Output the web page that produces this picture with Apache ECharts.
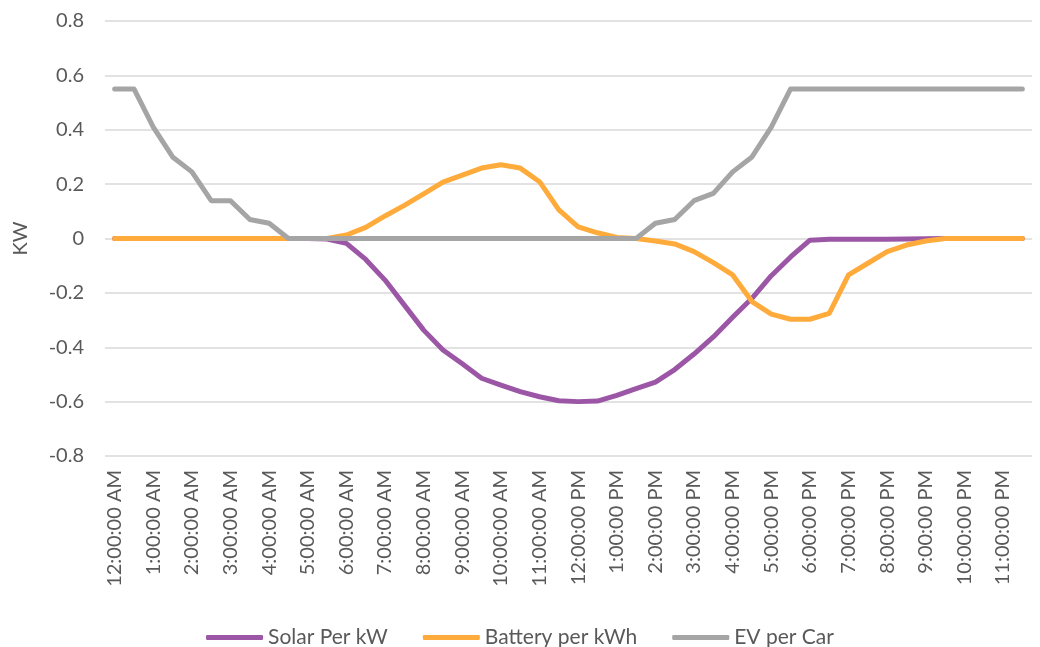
<!DOCTYPE html>
<html>
<head>
    <meta charset="utf-8">
    <title>Solar / Battery / EV</title>
    <script src="https://cdn.jsdelivr.net/npm/echarts@6/dist/echarts.min.js"></script>
</head>
<body style="margin:0px;background-color:#ffffff;">
    <div id="main" style="width:1040px;height:647px;"></div>
    <script type="text/javascript">
        // half-hourly categories
        var times = [
            '12:00:00 AM', '12:30:00 AM', '1:00:00 AM', '1:30:00 AM', '2:00:00 AM', '2:30:00 AM',
            '3:00:00 AM', '3:30:00 AM', '4:00:00 AM', '4:30:00 AM', '5:00:00 AM', '5:30:00 AM',
            '6:00:00 AM', '6:30:00 AM', '7:00:00 AM', '7:30:00 AM', '8:00:00 AM', '8:30:00 AM',
            '9:00:00 AM', '9:30:00 AM', '10:00:00 AM', '10:30:00 AM', '11:00:00 AM', '11:30:00 AM',
            '12:00:00 PM', '12:30:00 PM', '1:00:00 PM', '1:30:00 PM', '2:00:00 PM', '2:30:00 PM',
            '3:00:00 PM', '3:30:00 PM', '4:00:00 PM', '4:30:00 PM', '5:00:00 PM', '5:30:00 PM',
            '6:00:00 PM', '6:30:00 PM', '7:00:00 PM', '7:30:00 PM', '8:00:00 PM', '8:30:00 PM',
            '9:00:00 PM', '9:30:00 PM', '10:00:00 PM', '10:30:00 PM', '11:00:00 PM', '11:30:00 PM'
        ];

        var solar = [
            0, 0, 0, 0, 0, 0, 0, 0, 0, 0, 0, -0.002,
            -0.018, -0.077, -0.153, -0.245, -0.337, -0.41, -0.461, -0.514, -0.539, -0.563, -0.582, -0.597,
            -0.6, -0.598, -0.577, -0.552, -0.528, -0.482, -0.425, -0.362, -0.29, -0.22, -0.137, -0.068,
            -0.006, -0.003, -0.003, -0.003, -0.003, -0.002, -0.001, 0, 0, 0, 0, 0
        ];

        var battery = [
            0, 0, 0, 0, 0, 0, 0, 0, 0, 0, 0, 0,
            0.013, 0.041, 0.083, 0.122, 0.164, 0.207, 0.233, 0.259, 0.271, 0.259, 0.209, 0.105,
            0.043, 0.021, 0.004, 0, -0.009, -0.02, -0.048, -0.089, -0.134, -0.232, -0.278, -0.297,
            -0.297, -0.275, -0.134, -0.091, -0.048, -0.024, -0.009, 0, 0, 0, 0, 0
        ];

        var ev = [
            0.55, 0.55, 0.41, 0.30, 0.245, 0.139, 0.139, 0.07, 0.056, 0, 0, 0,
            0, 0, 0, 0, 0, 0, 0, 0, 0, 0, 0, 0,
            0, 0, 0, 0, 0.056, 0.07, 0.139, 0.166, 0.245, 0.30, 0.41, 0.55,
            0.55, 0.55, 0.55, 0.55, 0.55, 0.55, 0.55, 0.55, 0.55, 0.55, 0.55, 0.55
        ];

        var font = 'Lato';
        var textColor = '#595959';

        function lineSeries(name, data, color) {
            return {
                name: name,
                type: 'line',
                data: data,
                symbol: 'none',
                lineStyle: { width: 5, color: color, cap: 'round', join: 'round' },
                itemStyle: { color: color }
            };
        }

        var myChart = echarts.init(document.getElementById('main'));
        var option = {
            animation: false,
            grid: { left: 105, right: 8, top: 21, bottom: 191 },
            legend: {
                top: 622,
                left: 'center',
                itemWidth: 57,
                itemHeight: 5,
                itemGap: 35,
                icon: 'roundRect',
                textStyle: { fontFamily: font, fontSize: 21, color: textColor },
                data: ['Solar Per kW', 'Battery per kWh', 'EV per Car']
            },
            xAxis: {
                type: 'category',
                data: times,
                boundaryGap: true,
                axisLine: { show: false },
                axisTick: { show: false },
                axisLabel: {
                    interval: 1,
                    rotate: 90,
                    margin: 14,
                    fontFamily: font,
                    fontSize: 20,
                    color: textColor
                },
                splitLine: { show: false }
            },
            yAxis: {
                type: 'value',
                min: -0.8,
                max: 0.8,
                interval: 0.2,
                name: 'KW',
                nameLocation: 'middle',
                nameGap: 74,
                nameTextStyle: { fontFamily: font, fontSize: 20, color: textColor },
                axisLine: { show: false },
                axisTick: { show: false },
                axisLabel: {
                    margin: 21,
                    fontFamily: font,
                    fontSize: 20,
                    color: textColor,
                    formatter: function (v) { return String(Math.round(v * 10) / 10); }
                },
                splitLine: { lineStyle: { color: '#d9d9d9', width: 1.5 } }
            },
            series: [
                lineSeries('Solar Per kW', solar, '#9b57a6'),
                lineSeries('Battery per kWh', battery, '#ffab3c'),
                lineSeries('EV per Car', ev, '#a5a5a5')
            ]
        };
        myChart.setOption(option);
    </script>
</body>
</html>
